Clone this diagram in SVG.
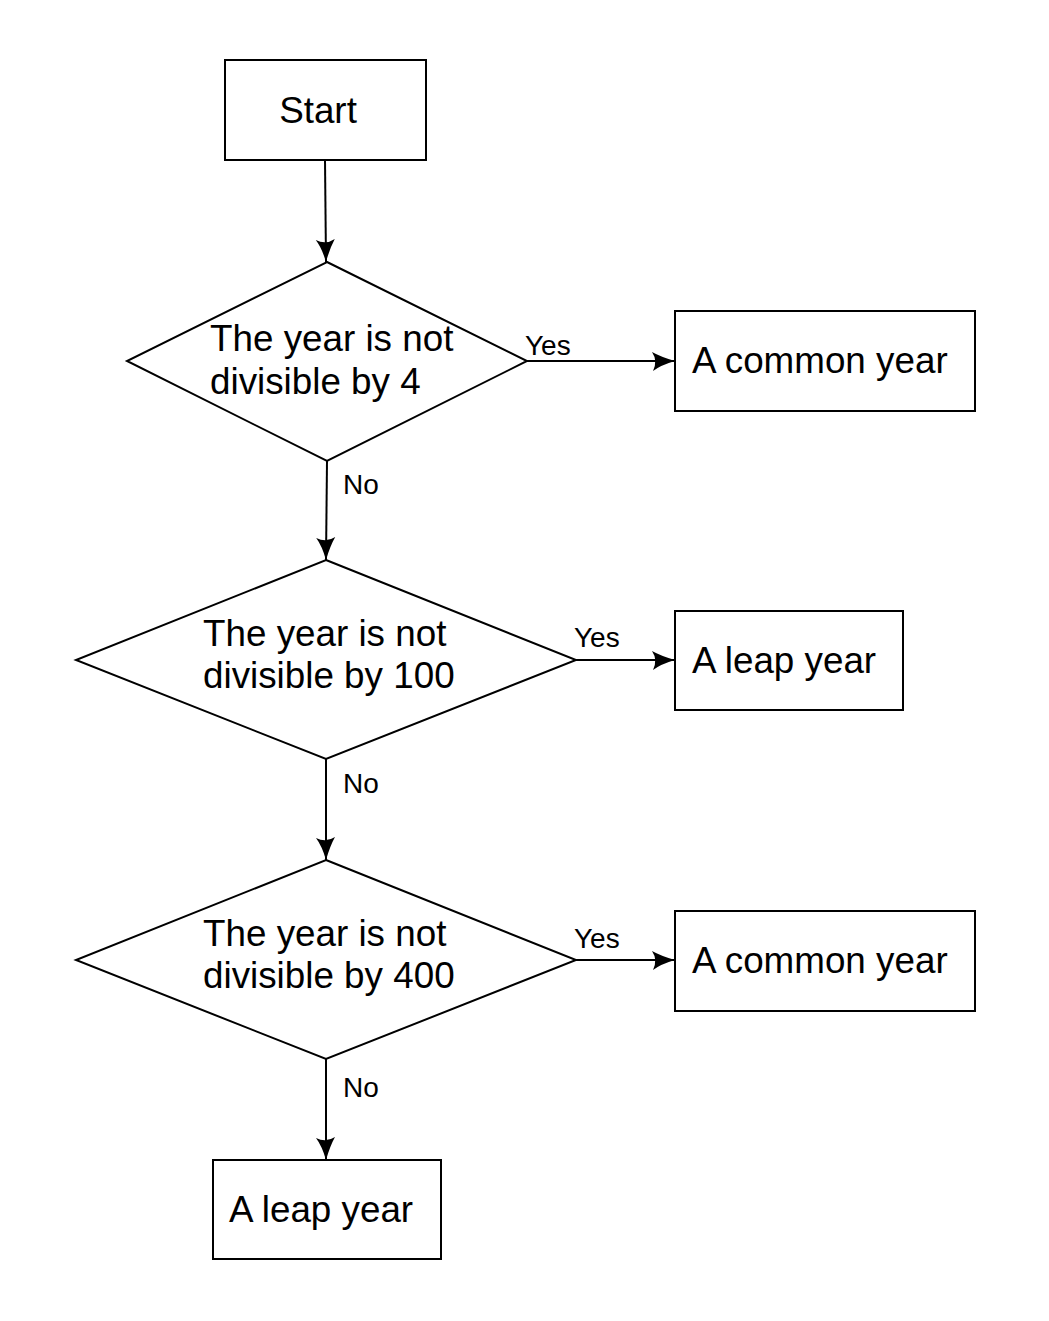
<svg xmlns="http://www.w3.org/2000/svg" width="1049" height="1321" viewBox="0 0 1049 1321">
<style>
.shape{fill:#fff;stroke:#000;stroke-width:2}
.t{font-family:"Liberation Sans",Arial,sans-serif;font-size:36.8px;fill:#000}
.l{font-family:"Liberation Sans",Arial,sans-serif;font-size:28px;fill:#000}
.c{stroke:#000;stroke-width:2;fill:none;marker-end:url(#ah)}
</style>
<defs>
<marker id="ah" markerUnits="userSpaceOnUse" markerWidth="26" markerHeight="22" refX="24" refY="11" orient="auto">
<path d="M1,2 Q10,7 24,11 Q10,15 2,21 Q7,11 1,2 z" fill="#000"/>
</marker>
</defs>
<rect width="1049" height="1321" fill="#fff"/>
<g id="connectors">
<line class="c" x1="325" y1="160" x2="326" y2="262"/>
<line class="c" x1="527" y1="361" x2="675" y2="361"/>
<line class="c" x1="327" y1="461" x2="326" y2="560"/>
<line class="c" x1="576" y1="660" x2="675" y2="660"/>
<line class="c" x1="326" y1="759" x2="326" y2="860"/>
<line class="c" x1="576" y1="960" x2="675" y2="960"/>
<line class="c" x1="326" y1="1059" x2="326" y2="1160"/>
<text class="l" x="525" y="355">Yes</text>
<text class="l" x="343" y="494">No</text>
<text class="l" x="574" y="647">Yes</text>
<text class="l" x="343" y="793">No</text>
<text class="l" x="574" y="948">Yes</text>
<text class="l" x="343" y="1097">No</text>
</g>
<g id="start">
<rect class="shape" x="225" y="60" width="201" height="100"/>
<text class="t" x="318" y="123" text-anchor="middle">Start</text>
</g>
<g id="d1">
<polygon class="shape" points="327,262 527,361 327,461 127,361"/>
<text class="t" x="210" y="351">The year is not</text>
<text class="t" x="210" y="394">divisible by 4</text>
</g>
<g id="b1">
<rect class="shape" x="675" y="311" width="300" height="100"/>
<text class="t" x="692" y="373">A common year</text>
</g>
<g id="d2">
<polygon class="shape" points="326,560 576,660 326,759 76,660"/>
<text class="t" x="203" y="646">The year is not</text>
<text class="t" x="203" y="688">divisible by 100</text>
</g>
<g id="b2">
<rect class="shape" x="675" y="611" width="228" height="99"/>
<text class="t" x="692" y="673">A leap year</text>
</g>
<g id="d3">
<polygon class="shape" points="326,860 576,960 326,1059 76,960"/>
<text class="t" x="203" y="946">The year is not</text>
<text class="t" x="203" y="988">divisible by 400</text>
</g>
<g id="b3">
<rect class="shape" x="675" y="911" width="300" height="100"/>
<text class="t" x="692" y="973">A common year</text>
</g>
<g id="b4">
<rect class="shape" x="213" y="1160" width="228" height="99"/>
<text class="t" x="229" y="1222">A leap year</text>
</g>
</svg>
